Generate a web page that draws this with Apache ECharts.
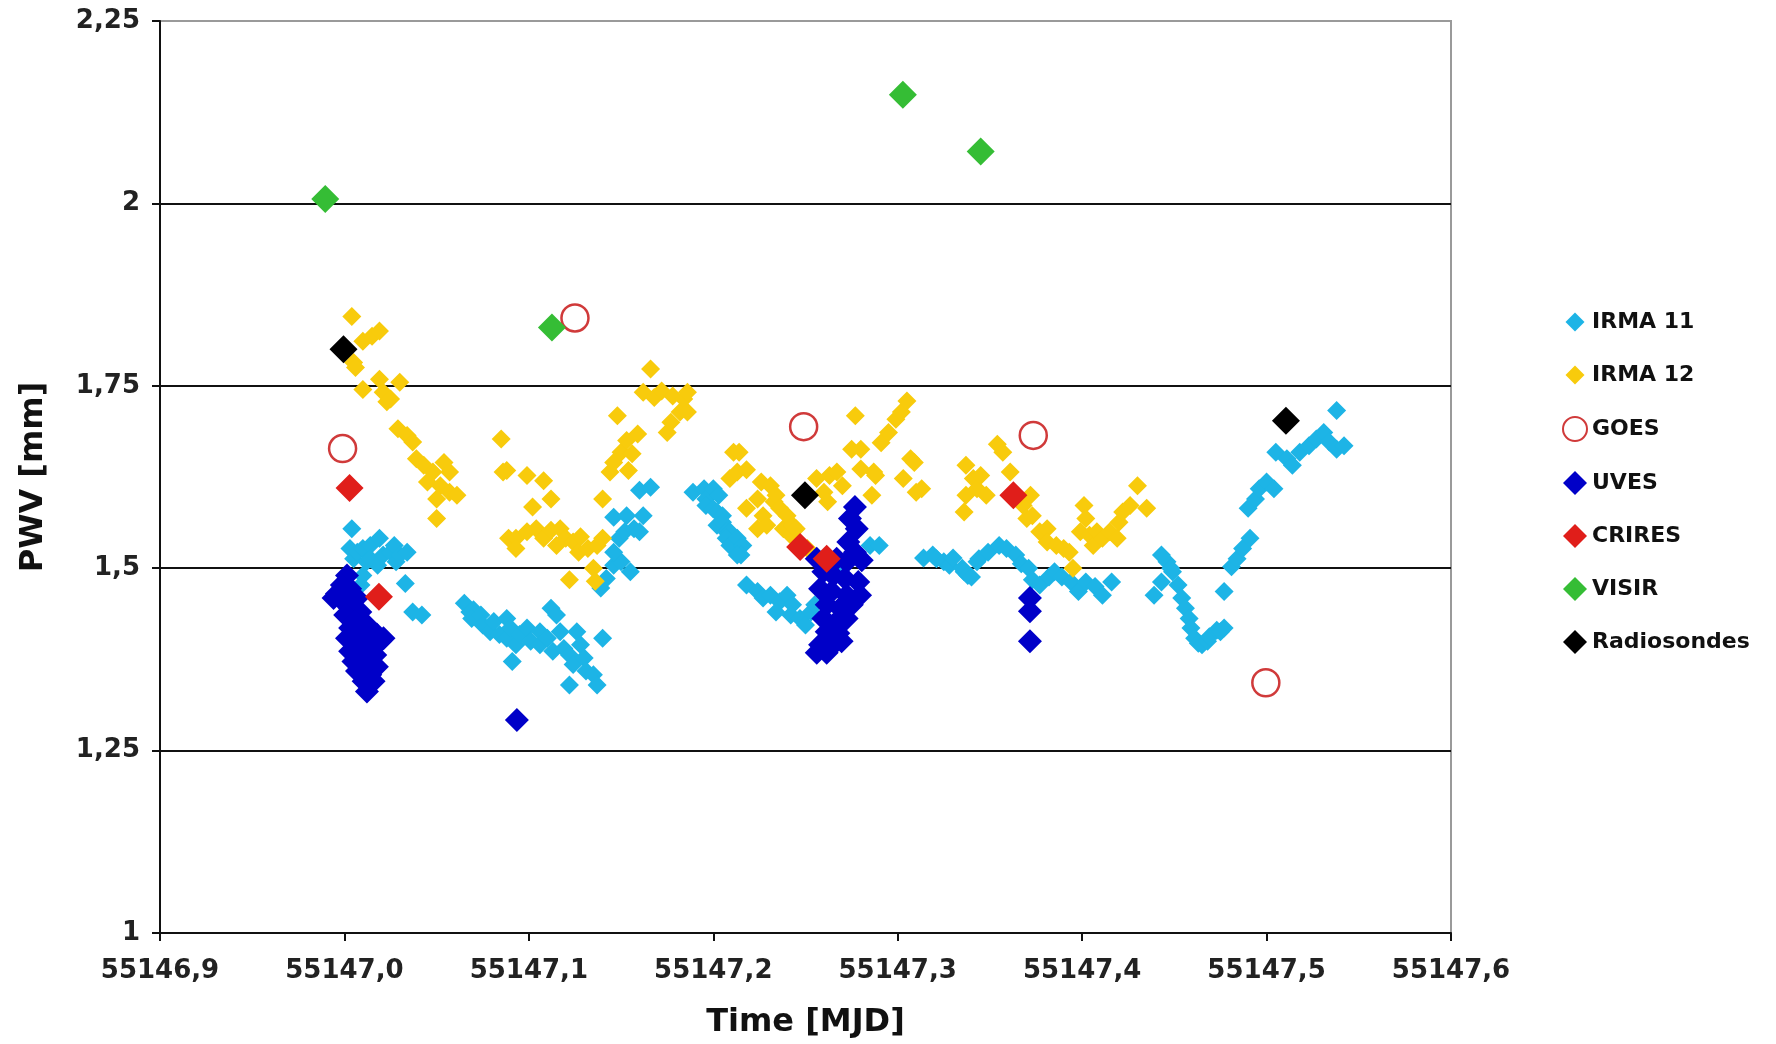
<!DOCTYPE html>
<html>
<head>
<meta charset="utf-8">
<title>PWV time series</title>
<script src="https://cdn.jsdelivr.net/npm/echarts@6/dist/echarts.min.js"></script>
<style>
  html, body { margin: 0; padding: 0; background: #ffffff; }
  #chart { width: 1776px; height: 1044px; }
</style>
</head>
<body>
<div id="chart"></div>
<script>
// Precipitable water vapour measured by several instruments, [MJD, PWV mm]
const irma11 = [
  [55147.004,1.554],[55147.003,1.527],[55147.005,1.513],[55147.007,1.522],[55147.009,1.477],[55147.010,1.490],
  [55147.010,1.527],[55147.012,1.509],[55147.014,1.531],[55147.014,1.513],[55147.018,1.504],[55147.019,1.541],
  [55147.021,1.518],[55147.025,1.522],[55147.027,1.531],[55147.028,1.509],[55147.030,1.518],[55147.034,1.522],
  [55147.033,1.479],[55147.037,1.440],[55147.042,1.436],
  [55147.065,1.452],[55147.068,1.440],[55147.070,1.443],[55147.069,1.431],[55147.074,1.436],[55147.075,1.422],
  [55147.079,1.413],[55147.081,1.427],[55147.084,1.409],[55147.088,1.431],[55147.088,1.404],[55147.090,1.418],
  [55147.091,1.372],[55147.093,1.395],[55147.095,1.409],[55147.099,1.418],[55147.101,1.400],[55147.106,1.413],
  [55147.106,1.395],[55147.110,1.404],[55147.112,1.445],[55147.115,1.436],[55147.117,1.413],[55147.113,1.386],
  [55147.119,1.390],[55147.122,1.381],[55147.122,1.340],[55147.124,1.368],[55147.126,1.413],[55147.128,1.395],
  [55147.130,1.377],[55147.131,1.359],[55147.135,1.354],[55147.137,1.340],[55147.140,1.404],
  [55147.139,1.473],[55147.142,1.486],[55147.146,1.504],[55147.150,1.509],[55147.155,1.495],[55147.146,1.522],
  [55147.149,1.541],[55147.152,1.550],[55147.146,1.570],[55147.153,1.572],[55147.157,1.554],[55147.160,1.550],
  [55147.162,1.572],[55147.160,1.607],[55147.166,1.611],
  [55147.189,1.604],[55147.195,1.609],[55147.196,1.595],[55147.200,1.609],[55147.203,1.600],[55147.196,1.586],
  [55147.200,1.581],[55147.202,1.577],[55147.205,1.572],[55147.202,1.559],[55147.205,1.563],[55147.207,1.550],
  [55147.209,1.550],[55147.207,1.541],[55147.209,1.531],[55147.213,1.541],[55147.216,1.531],[55147.215,1.518],
  [55147.213,1.518],
  [55147.218,1.477],[55147.224,1.468],[55147.227,1.459],[55147.231,1.463],[55147.236,1.454],[55147.234,1.440],
  [55147.240,1.463],[55147.243,1.450],[55147.242,1.436],[55147.247,1.431],[55147.250,1.422],[55147.253,1.440],
  [55147.255,1.450],
  [55147.269,1.490],[55147.279,1.518],[55147.285,1.531],[55147.290,1.531],
  [55147.314,1.514],[55147.319,1.518],[55147.321,1.513],[55147.325,1.509],[55147.328,1.504],[55147.330,1.514],
  [55147.335,1.500],[55147.336,1.495],[55147.338,1.490],[55147.340,1.488],[55147.343,1.509],[55147.344,1.513],
  [55147.349,1.522],[55147.355,1.531],[55147.359,1.527],[55147.364,1.518],[55147.367,1.506],[55147.371,1.500],
  [55147.373,1.484],[55147.377,1.477],[55147.382,1.488],[55147.385,1.495],[55147.389,1.488],[55147.394,1.481],
  [55147.398,1.468],[55147.402,1.481],[55147.407,1.475],[55147.411,1.463],[55147.416,1.481],
  [55147.439,1.463],[55147.443,1.481],[55147.443,1.518],[55147.446,1.509],[55147.448,1.500],[55147.449,1.495],
  [55147.452,1.477],[55147.454,1.459],[55147.456,1.445],[55147.458,1.431],[55147.459,1.418],[55147.461,1.404],
  [55147.463,1.397],[55147.465,1.395],[55147.468,1.400],[55147.469,1.406],[55147.473,1.415],[55147.475,1.413],
  [55147.477,1.418],[55147.477,1.468],[55147.481,1.502],[55147.484,1.513],[55147.487,1.527],[55147.491,1.541],
  [55147.490,1.582],[55147.494,1.595],[55147.496,1.609],[55147.500,1.618],[55147.504,1.609],[55147.505,1.659],
  [55147.511,1.650],[55147.514,1.641],[55147.518,1.659],[55147.523,1.668],[55147.527,1.677],[55147.531,1.686],
  [55147.534,1.673],[55147.538,1.663],[55147.542,1.668],[55147.538,1.716]
];

const irma12 = [
  [55147.004,1.845],[55147.005,1.782],[55147.006,1.775],[55147.010,1.811],[55147.015,1.818],[55147.019,1.825],
  [55147.010,1.745],[55147.019,1.759],[55147.021,1.741],[55147.023,1.728],[55147.025,1.732],[55147.030,1.755],
  [55147.029,1.691],[55147.034,1.682],[55147.037,1.673],[55147.039,1.650],[55147.043,1.641],[55147.048,1.632],
  [55147.054,1.645],[55147.057,1.632],[55147.045,1.618],[55147.052,1.613],[55147.057,1.604],[55147.061,1.600],
  [55147.050,1.595],[55147.050,1.568],
  [55147.085,1.677],[55147.086,1.632],[55147.088,1.634],[55147.089,1.541],[55147.093,1.541],[55147.093,1.527],
  [55147.099,1.627],[55147.099,1.550],[55147.102,1.584],[55147.104,1.554],[55147.108,1.620],[55147.108,1.541],
  [55147.112,1.595],[55147.112,1.552],[55147.115,1.531],[55147.117,1.554],[55147.120,1.541],[55147.122,1.484],
  [55147.124,1.536],[55147.127,1.522],[55147.128,1.543],[55147.132,1.527],[55147.135,1.500],[55147.136,1.482],
  [55147.137,1.531],[55147.140,1.541],[55147.140,1.595],
  [55147.144,1.632],[55147.146,1.645],[55147.148,1.709],[55147.150,1.659],[55147.153,1.675],[55147.154,1.634],
  [55147.156,1.657],[55147.159,1.684],[55147.162,1.741],[55147.166,1.773],[55147.168,1.734],[55147.172,1.743],
  [55147.175,1.686],[55147.177,1.700],[55147.178,1.736],[55147.182,1.714],[55147.184,1.732],[55147.186,1.741],
  [55147.186,1.714],
  [55147.209,1.623],[55147.211,1.659],[55147.213,1.632],[55147.214,1.659],[55147.218,1.635],[55147.218,1.582],
  [55147.224,1.595],[55147.224,1.554],[55147.226,1.618],[55147.227,1.572],[55147.229,1.559],[55147.231,1.613],
  [55147.233,1.591],[55147.234,1.600],[55147.236,1.582],[55147.238,1.554],[55147.240,1.572],[55147.242,1.545],
  [55147.243,1.559],[55147.245,1.554],[55147.251,1.527],[55147.256,1.623],[55147.260,1.604],[55147.262,1.591],
  [55147.263,1.627],[55147.267,1.632],[55147.270,1.613],[55147.275,1.663],[55147.277,1.709],[55147.280,1.663],
  [55147.280,1.636],[55147.286,1.600],[55147.287,1.632],[55147.288,1.627],[55147.291,1.672],[55147.295,1.686],
  [55147.299,1.704],[55147.302,1.714],[55147.305,1.729],[55147.303,1.623],[55147.307,1.650],[55147.309,1.645],
  [55147.310,1.604],[55147.313,1.609],
  [55147.336,1.577],[55147.337,1.641],[55147.337,1.600],[55147.341,1.623],[55147.343,1.609],[55147.345,1.627],
  [55147.348,1.600],[55147.354,1.670],[55147.357,1.659],[55147.361,1.632],[55147.368,1.586],[55147.370,1.568],
  [55147.372,1.600],[55147.373,1.572],[55147.377,1.550],[55147.381,1.554],[55147.381,1.536],[55147.386,1.531],
  [55147.390,1.527],[55147.393,1.522],[55147.395,1.500],[55147.399,1.550],[55147.401,1.586],[55147.402,1.568],
  [55147.404,1.545],[55147.406,1.531],[55147.408,1.550],[55147.411,1.541],[55147.415,1.550],[55147.419,1.541],
  [55147.420,1.563],[55147.422,1.577],[55147.426,1.586],[55147.430,1.613],[55147.435,1.582]
];

const goes = [
  [55146.999,1.664],[55147.125,1.843],[55147.249,1.694],[55147.3735,1.682],[55147.4996,1.343]
];

const uves = [
  [55147.0014,1.490],[55146.9986,1.477],[55146.9959,1.465],[55147.0031,1.472],[55147.0068,1.459],
  [55146.9995,1.454],[55146.9941,1.459],[55147.0031,1.445],[55147.0086,1.440],[55147.0004,1.436],
  [55147.0059,1.427],[55147.0122,1.422],[55147.0031,1.418],[55147.0104,1.411],[55147.0176,1.409],
  [55147.0014,1.404],[55147.0068,1.400],[55147.0140,1.395],[55147.0194,1.400],[55147.0031,1.386],
  [55147.0104,1.381],[55147.0167,1.381],[55147.0049,1.372],[55147.0122,1.368],[55147.0176,1.365],
  [55147.0068,1.359],[55147.0140,1.354],[55147.0104,1.345],[55147.0158,1.345],[55147.0122,1.331],
  [55147.0212,1.404],
  [55147.0935,1.292],
  [55147.2768,1.584],[55147.2741,1.568],[55147.2778,1.554],[55147.2732,1.536],[55147.2768,1.522],
  [55147.2669,1.513],[55147.2723,1.509],[55147.2805,1.511],[55147.2597,1.495],[55147.2651,1.490],
  [55147.2714,1.486],[55147.2786,1.481],[55147.2579,1.472],[55147.2642,1.468],[55147.2723,1.463],
  [55147.2796,1.463],[55147.2615,1.450],[55147.2687,1.445],[55147.2751,1.450],[55147.2597,1.431],
  [55147.2669,1.427],[55147.2723,1.431],[55147.2615,1.413],[55147.2678,1.411],[55147.2579,1.395],
  [55147.2642,1.393],[55147.2696,1.400],[55147.2561,1.384],[55147.2615,1.384],[55147.2561,1.513],
  [55147.3717,1.459],[55147.3717,1.441],[55147.3717,1.400]
];

const crires = [
  [55147.0028,1.610],[55147.0187,1.461],[55147.2471,1.529],[55147.2615,1.513],[55147.3627,1.600]
];

const visir = [
  [55146.9896,2.006],[55147.1125,1.830],[55147.3028,2.149],[55147.3450,2.071]
];

const radiosondes = [
  [55146.9995,1.800],[55147.2497,1.600],[55147.5105,1.702]
];

const seriesNames = ['IRMA 11', 'IRMA 12', 'GOES', 'UVES', 'CRIRES', 'VISIR', 'Radiosondes'];
const seriesColors = ['#1db4e6', '#f8cb0c', '#d03a3a', '#0000c8', '#e01e1a', '#35bd35', '#000000'];

const FONT = 'DejaVu Sans';
const commaDecimal = (v, digits) => (digits == null ? String(+v.toFixed(4)) : v.toFixed(digits)).replace('.', ',');

// A diamond inset in a 24x24 box, so the smaller markers get a smaller legend icon
const smallDiamondIcon = 'path://M0,0M24,24M12,2.5L21.5,12L12,21.5L2.5,12Z';

function diamondSeries(idx, data, size) {
  return {
    name: seriesNames[idx],
    type: 'scatter',
    data: data,
    symbol: 'diamond',
    symbolSize: size,
    itemStyle: { color: seriesColors[idx], opacity: 1 },
    z: 2 + idx
  };
}

const chart = echarts.init(document.getElementById('chart'), null, { renderer: 'canvas' });

chart.setOption({
  animation: false,
  backgroundColor: '#ffffff',
  textStyle: { fontFamily: FONT },
  grid: {
    left: 160, top: 21, width: 1291, height: 915,
    show: true, borderColor: '#9a9a9a', borderWidth: 2, backgroundColor: 'transparent'
  },
  legend: {
    orient: 'vertical',
    left: 1557, top: 305,
    itemWidth: 24, itemHeight: 24, itemGap: 29,
    textStyle: { fontFamily: FONT, fontWeight: 'bold', fontSize: 22, color: '#111', lineHeight: 24 },
    data: [
      { name: 'IRMA 11', icon: smallDiamondIcon },
      { name: 'IRMA 12', icon: smallDiamondIcon },
      { name: 'GOES' },
      { name: 'UVES' },
      { name: 'CRIRES' },
      { name: 'VISIR' },
      { name: 'Radiosondes' }
    ]
  },
  xAxis: {
    type: 'value',
    min: 55146.9, max: 55147.6, interval: 0.1,
    name: 'Time [MJD]',
    nameLocation: 'middle', nameGap: 74,
    nameTextStyle: { fontFamily: FONT, fontWeight: 'bold', fontSize: 32, color: '#111' },
    axisLine: { show: true, onZero: false, lineStyle: { color: '#111', width: 2 } },
    axisTick: { show: true, inside: false, length: 8, lineStyle: { color: '#111', width: 2 } },
    axisLabel: {
      margin: 25, fontFamily: FONT, fontWeight: 'bold', fontSize: 26, color: '#222',
      formatter: v => commaDecimal(v, 1)
    },
    splitLine: { show: false }
  },
  yAxis: {
    type: 'value',
    min: 1, max: 2.25, interval: 0.25,
    name: 'PWV [mm]',
    nameLocation: 'middle', nameGap: 110, nameRotate: 90,
    nameTextStyle: { fontFamily: FONT, fontWeight: 'bold', fontSize: 32, color: '#111' },
    axisLine: { show: true, onZero: false, lineStyle: { color: '#111', width: 2 } },
    axisTick: { show: true, inside: false, length: 8, lineStyle: { color: '#111', width: 2 } },
    axisLabel: {
      margin: 20, fontFamily: FONT, fontWeight: 'bold', fontSize: 26, color: '#222',
      formatter: v => commaDecimal(v)
    },
    splitLine: {
      show: true,
      lineStyle: { color: ['#111', '#111', '#111', '#111', '#111', '#9a9a9a'], width: 2 }
    }
  },
  series: [
    diamondSeries(0, irma11, 19),
    diamondSeries(1, irma12, 19),
    {
      name: seriesNames[2],
      type: 'scatter',
      data: goes,
      symbol: 'circle',
      symbolSize: 27,
      itemStyle: { color: 'rgba(255,255,255,0)', borderColor: seriesColors[2], borderWidth: 2.5, opacity: 1 },
      z: 4
    },
    diamondSeries(3, uves, 24),
    diamondSeries(4, crires, 28),
    diamondSeries(5, visir, 28),
    diamondSeries(6, radiosondes, 28)
  ]
});
</script>
</body>
</html>
